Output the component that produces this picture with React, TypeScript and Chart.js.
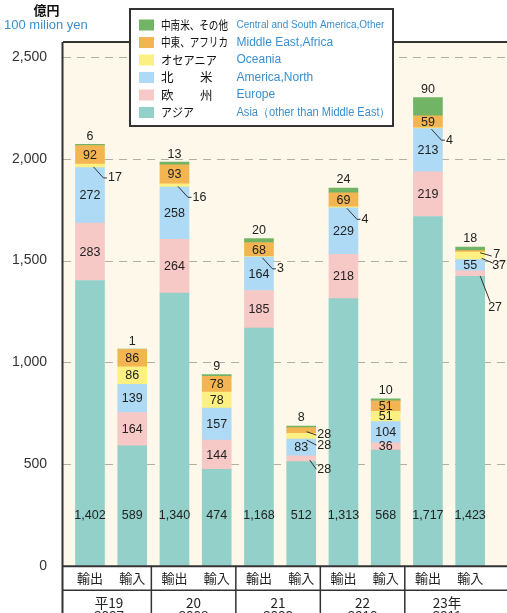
import React, { useEffect, useRef } from 'react';
import { Chart, registerables } from 'chart.js';

Chart.register(...registerables);

// ---- data ----
const BAR_KIND = ['輸出', '輸入', '輸出', '輸入', '輸出', '輸入', '輸出', '輸入', '輸出', '輸入'];
const YEAR_JP = ['平19', '20', '21', '22', '23年'];
const YEAR_EN = ['2007', '2008', '2009', '2010', '2011'];
const SERIES_JP = ['アジア', '欧　　州', '北　　米', 'オセアニア', '中東、アフリカ', '中南米、その他'];
const SERIES_EN = [
  'Asia（other than Middle East）',
  'Europe',
  'America,North',
  'Oceania',
  'Middle East,Africa',
  'Central and South America,Other',
];
const asia = [1402, 589, 1340, 474, 1168, 512, 1313, 568, 1717, 1423];
const europe = [283, 164, 264, 144, 185, 28, 218, 36, 219, 27];
const northAmerica = [272, 139, 258, 157, 164, 83, 229, 104, 213, 55];
const oceania = [17, 86, 16, 78, 3, 28, 4, 51, 4, 37];
const middleEast = [92, 86, 93, 78, 68, 28, 69, 51, 59, 7];
const other = [6, 1, 13, 9, 20, 8, 24, 10, 90, 18];
const Y_TICKS = [0, 500, 1000, 1500, 2000, 2500];

const SERIES = [asia, europe, northAmerica, oceania, middleEast, other];
const COLORS = ['#93d0c9', '#f6c8c6', '#aedaf5', '#fbf081', '#f2b552', '#72b466'];

// leader-line placements (offsets relative to bar right edge / segment centre)
const EXP_LEADER = { pts: [[-11, 1], [-1, 12], [2.5, 12]], t: [3.5, 12] };
const LEADERS = [
  { bar: 0, s: 3, ...EXP_LEADER },
  { bar: 2, s: 3, ...EXP_LEADER },
  { bar: 4, s: 3, ...EXP_LEADER },
  { bar: 6, s: 3, ...EXP_LEADER },
  { bar: 8, s: 3, ...EXP_LEADER },
  { bar: 5, s: 4, pts: [[-9, 1.3], [0.7, 4.6]], t: [1.5, 4.6] },
  { bar: 5, s: 3, pts: [[-9, 4], [0.7, 9]], t: [1.5, 9.5] },
  { bar: 5, s: 1, pts: [[-6, 1.3], [0.7, 10.6]], t: [1.5, 11.3] },
  { bar: 9, s: 4, pts: [[-4.5, 1.4], [7, 4.7]], t: [8.5, 3.7] },
  { bar: 9, s: 3, pts: [[-3, 2.5], [8.8, 7.5]], t: [7.5, 10] },
  { bar: 9, s: 1, pts: [[-4.5, 2.5], [5.5, 28.2]], t: [3.5, 34.5] },
];

const LATIN = '"Liberation Sans", Arial, sans-serif';
const JP = '"Noto Sans CJK JP", sans-serif';
const BAR_W = 29;
const JP_MAXW: Record<number, number> = { 0: 33, 3: 56, 4: 67, 5: 67 };

const customPlugin = {
  id: 'custom',
  beforeDraw(chart: any) {
    const { ctx, chartArea: a } = chart;
    ctx.save();
    ctx.fillStyle = '#ffffff';
    ctx.fillRect(0, 0, chart.width, chart.height);
    ctx.fillStyle = '#fdf8ea';
    ctx.fillRect(a.left, a.top, a.right - a.left, a.bottom - a.top);
    const y = chart.scales.y;
    ctx.strokeStyle = '#b3afa4';
    ctx.lineWidth = 1;
    ctx.setLineDash([8, 6]);
    for (const v of Y_TICKS) {
      if (v === 0) continue;
      const py = Math.round(y.getPixelForValue(v)) + 0.5;
      ctx.beginPath();
      ctx.moveTo(a.left, py);
      ctx.lineTo(a.right, py);
      ctx.stroke();
    }
    ctx.restore();
  },
  afterDatasetsDraw(chart: any) {
    const { ctx, chartArea: a } = chart;
    const xs = chart.scales.x;
    const ys = chart.scales.y;
    ctx.save();
    ctx.fillStyle = '#222';
    ctx.strokeStyle = '#333';
    ctx.lineWidth = 1;
    ctx.font = `12.5px ${LATIN}`;
    for (let i = 0; i < asia.length; i++) {
      const cx = xs.getPixelForValue(i);
      const R = cx + BAR_W / 2;
      let cum = 0;
      for (let s = 0; s < SERIES.length; s++) {
        const v = SERIES[s][i];
        const y0 = ys.getPixelForValue(cum);
        const y1 = ys.getPixelForValue(cum + v);
        cum += v;
        const cy = (y0 + y1) / 2;
        const txt = v.toLocaleString('en-US');
        if (s === 0) {
          ctx.textAlign = 'center';
          ctx.textBaseline = 'middle';
          ctx.fillText(txt, cx, a.bottom - 50);
          continue;
        }
        if (s === 5) {
          ctx.textAlign = 'center';
          ctx.textBaseline = 'middle';
          ctx.fillText(txt, cx, y1 - 8);
          continue;
        }
        const ld = LEADERS.find((l) => l.bar === i && l.s === s);
        if (ld) {
          ctx.beginPath();
          ld.pts.forEach((p: number[], k: number) => {
            if (k === 0) ctx.moveTo(R + p[0], cy + p[1]);
            else ctx.lineTo(R + p[0], cy + p[1]);
          });
          ctx.stroke();
          ctx.textAlign = 'left';
          ctx.textBaseline = 'middle';
          ctx.fillText(txt, R + ld.t[0], cy + ld.t[1]);
        } else {
          ctx.textAlign = 'center';
          ctx.textBaseline = 'middle';
          ctx.fillText(txt, cx, cy + 0.5);
        }
      }
    }
    ctx.restore();
  },
  afterDraw(chart: any) {
    const { ctx, chartArea: a } = chart;
    const xs = chart.scales.x;
    const W = chart.width;
    const H = chart.height;
    ctx.save();
    // frame and table
    ctx.strokeStyle = '#333';
    ctx.lineWidth = 2;
    ctx.beginPath();
    ctx.moveTo(a.left, a.top);
    ctx.lineTo(W, a.top);
    ctx.moveTo(a.left - 0.5, a.top);
    ctx.lineTo(a.left - 0.5, H);
    ctx.moveTo(a.left, a.bottom + 0.5);
    ctx.lineTo(W, a.bottom + 0.5);
    ctx.stroke();
    ctx.lineWidth = 1.5;
    ctx.beginPath();
    ctx.moveTo(a.left, a.bottom + 24.5);
    ctx.lineTo(W, a.bottom + 24.5);
    for (let g = 1; g < YEAR_JP.length; g++) {
      const px = (xs.getPixelForValue(2 * g - 1) + xs.getPixelForValue(2 * g)) / 2 - 2;
      ctx.moveTo(px, a.bottom);
      ctx.lineTo(px, H);
    }
    ctx.stroke();
    ctx.fillStyle = '#222';
    ctx.textAlign = 'center';
    ctx.textBaseline = 'middle';
    ctx.font = `13px ${JP}`;
    BAR_KIND.forEach((k, i) => {
      ctx.fillText(k, xs.getPixelForValue(i), a.bottom + 12.5);
    });
    YEAR_JP.forEach((yj, g) => {
      const px = (xs.getPixelForValue(2 * g) + xs.getPixelForValue(2 * g + 1)) / 2;
      ctx.font = `13.5px ${JP}`;
      ctx.fillText(yj, px - 2, a.bottom + 37);
      ctx.font = `13.5px ${LATIN}`;
      ctx.fillText(YEAR_EN[g], px - 2, a.bottom + 50.5);
    });
    // axis title
    ctx.textAlign = 'center';
    ctx.font = `bold 13px ${JP}`;
    ctx.fillStyle = '#111';
    ctx.fillText('億円', 46.5, 10);
    ctx.textAlign = 'left';
    ctx.font = `13px ${LATIN}`;
    ctx.fillStyle = '#3a8fcf';
    ctx.fillText('100 milion yen', 4, 25);
    // legend
    ctx.fillStyle = '#ffffff';
    ctx.fillRect(130, 9, 263, 117);
    ctx.strokeStyle = '#333';
    ctx.lineWidth = 2;
    ctx.strokeRect(130, 9, 263, 117);
    for (let r = 0; r < 6; r++) {
      const s = 5 - r;
      const ry = 25 + r * 17.5;
      ctx.fillStyle = COLORS[s];
      ctx.fillRect(139, ry - 5.5, 15, 11);
      ctx.fillStyle = '#111';
      ctx.font = `12.5px ${JP}`;
      ctx.textAlign = 'left';
      ctx.textBaseline = 'middle';
      const jp = SERIES_JP[s];
      if (jp.includes('　　')) {
        const parts = jp.split('　　');
        ctx.fillText(parts[0], 161, ry);
        ctx.fillText(parts[1], 200, ry);
      } else {
        ctx.fillText(jp, 161, ry, JP_MAXW[s]);
      }
      ctx.fillStyle = '#3a8fcf';
      ctx.font = s === 5 ? `10px ${LATIN}` : `12px ${LATIN}`;
      if (s === 0) ctx.fillText(SERIES_EN[s], 236.5, ry, 154);
      else ctx.fillText(SERIES_EN[s], 236.5, ry);
    }
    ctx.restore();
  },
};

export default function App() {
  const ref = useRef<HTMLCanvasElement>(null);
  useEffect(() => {
    const canvas = ref.current;
    if (!canvas) return;
    const datasets = SERIES.map((arr, s) => ({
      label: SERIES_EN[s],
      data: arr.map((v, i) => ({ x: i, y: v })),
      backgroundColor: COLORS[s],
      borderWidth: 0,
      barThickness: BAR_W,
    }));
    const chart = new Chart(canvas, {
      type: 'bar',
      data: { datasets } as any,
      options: {
        responsive: false,
        animation: false,
        devicePixelRatio: 1,
        layout: { padding: { top: 42, bottom: 47.3, left: 0, right: 0 } },
        plugins: { legend: { display: false }, tooltip: { enabled: false } },
        scales: {
          x: {
            type: 'linear',
            stacked: true,
            display: false,
            min: -0.639,
            max: 9.872,
            offset: false,
          },
          y: {
            type: 'linear',
            stacked: true,
            min: 0,
            max: 2574.7,
            afterBuildTicks: (s: any) => {
              s.ticks = Y_TICKS.map((v) => ({ value: v }));
            },
            afterFit: (s: any) => {
              s.width = 63;
            },
            grid: { display: false },
            border: { display: false },
            ticks: {
              padding: 8,
              color: '#333',
              font: { family: LATIN, size: 14 },
              callback: (v: any) => Number(v).toLocaleString('en-US'),
            },
          },
        },
      } as any,
      plugins: [customPlugin],
    });
    return () => chart.destroy();
  }, []);
  return (
    <div style={{ position: 'fixed', left: 0, top: 0, width: 507, height: 613, overflow: 'hidden' }}>
      <canvas ref={ref} width={507} height={613} style={{ display: 'block' }} />
    </div>
  );
}
